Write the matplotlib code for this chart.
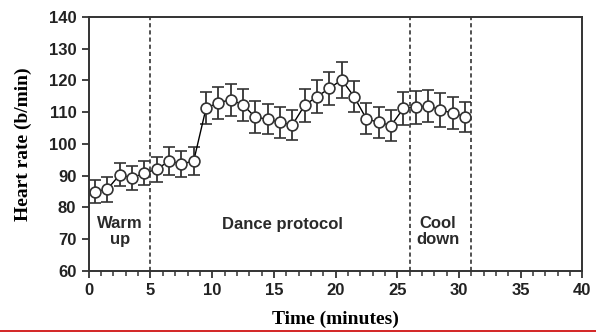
import matplotlib
matplotlib.use("Agg")
import matplotlib.pyplot as plt
from matplotlib.lines import Line2D
import numpy as np

# minutes at which heart rate was sampled
time_min = [0.5, 1.5, 2.5, 3.5, 4.5,
            5.5, 6.5, 7.5, 8.5, 9.5, 10.5, 11.5, 12.5, 13.5, 14.5, 15.5,
            16.5, 17.5, 18.5, 19.5, 20.5, 21.5, 22.5, 23.5, 24.5, 25.5,
            26.5, 27.5, 28.5, 29.5, 30.5]
heart_rate = [85.0, 85.7, 90.3, 89.3, 90.8,
              92.0, 94.6, 93.7, 94.6, 111.2, 113.0, 113.9, 112.3, 108.4, 107.8, 106.8,
              106.0, 112.2, 114.9, 117.5, 120.2, 114.9, 107.9, 106.8, 105.8, 111.2,
              111.6, 112.0, 110.7, 109.7, 108.6]
hr_err = [3.6, 3.9, 3.7, 3.7, 3.8,
          4.0, 4.3, 4.2, 4.3, 5.0, 5.0, 5.0, 5.0, 5.0, 4.8, 4.8,
          4.7, 5.2, 5.2, 5.3, 5.6, 5.0, 4.9, 4.8, 4.8, 5.3,
          5.2, 5.0, 5.3, 5.0, 4.7]

phase_bounds = [5, 26, 31]
phase_labels = ["Warm\nup", "Dance protocol", "Cool\ndown"]
phase_label_x = [2.5, 15.7, 28.3]
phase_label_y = [72.5, 74.5, 72.5]

fig = plt.figure(figsize=(5.96, 3.32), dpi=100)
ax = fig.add_axes([0.149, 0.184, 0.828, 0.765])

ax.errorbar(time_min, heart_rate, yerr=hr_err, fmt="-", color="black", lw=1.0,
            ecolor="#333333", elinewidth=1.3, capsize=4, capthick=1.6,
            marker="o", ms=7.8, mfc="white", mec="#333333", mew=1.2, zorder=3)

for xb in phase_bounds:
    ax.axvline(xb, color="#333333", ls=(0, (2.5, 1.8)), lw=1.2, zorder=2)

for lx, ly, txt in zip(phase_label_x, phase_label_y, phase_labels):
    ax.text(lx, ly, txt, ha="center", va="center", fontsize=12, fontweight="bold",
            family="Liberation Sans", color="#2a2a2a", linespacing=1.05)

ax.set_xlim(0, 40)
ax.set_ylim(60, 140)
ax.set_xticks(np.arange(0, 41, 5))
ax.set_xticks(np.arange(0, 41, 1), minor=True)
ax.set_yticks(np.arange(60, 141, 10))

for lab in ax.get_xticklabels() + ax.get_yticklabels():
    lab.set_family("Liberation Sans")
    lab.set_fontweight("bold")
    lab.set_fontsize(12)
    lab.set_color("#222222")

ax.tick_params(axis="both", which="major", direction="out", length=5, width=1.3,
               color="#333333", pad=4)
ax.tick_params(axis="x", which="minor", direction="out", length=3.5, width=1.1,
               color="#333333")
for sp in ax.spines.values():
    sp.set_linewidth(1.4)
    sp.set_color("#333333")

ax.set_xlabel("Time (minutes)", family="Liberation Serif", fontweight="bold",
              fontsize=14, labelpad=9)
ax.set_ylabel("Heart rate (b/min)", family="Liberation Serif", fontweight="bold",
              fontsize=14, labelpad=12)

# red page rule along the bottom edge
fig.add_artist(Line2D([0, 1], [0.004, 0.004], transform=fig.transFigure,
                      color="#cc0000", lw=1.2))

fig.savefig("out.png", dpi=100)
